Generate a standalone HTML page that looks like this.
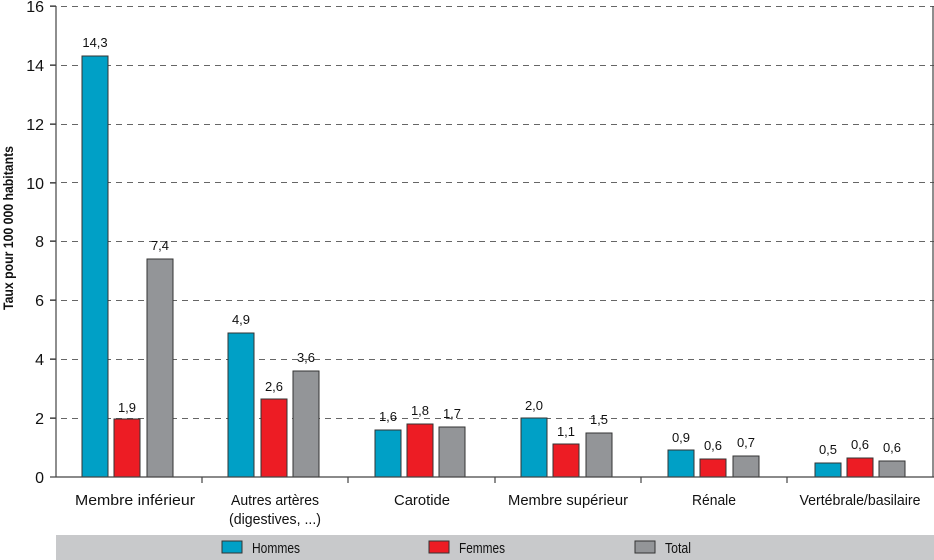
<!DOCTYPE html>
<html><head><meta charset="utf-8"><style>
html,body{margin:0;padding:0;background:#fff;}
svg{display:block;font-family:"Liberation Sans Narrow","Liberation Sans",sans-serif;}
</style></head><body>
<svg width="934" height="560" viewBox="0 0 934 560" xmlns="http://www.w3.org/2000/svg">
<rect width="934" height="560" fill="#fff"/>
<g stroke="#666" stroke-width="1" stroke-dasharray="6,5">
<line x1="50" y1="6.5" x2="934" y2="6.5"/>
<line x1="50" y1="65.5" x2="934" y2="65.5"/>
<line x1="50" y1="124.5" x2="934" y2="124.5"/>
<line x1="50" y1="182.5" x2="934" y2="182.5"/>
<line x1="50" y1="241.5" x2="934" y2="241.5"/>
<line x1="50" y1="300.5" x2="934" y2="300.5"/>
<line x1="50" y1="359.5" x2="934" y2="359.5"/>
<line x1="50" y1="418.5" x2="934" y2="418.5"/>
</g>
<g font-size="16" fill="#111" text-anchor="end">
<text x="44" y="12">16</text><text x="44" y="71">14</text><text x="44" y="130">12</text>
<text x="44" y="189">10</text><text x="44" y="247">8</text><text x="44" y="306">6</text>
<text x="44" y="365">4</text><text x="44" y="424">2</text><text x="44" y="483">0</text>
</g>
<text transform="translate(13,228) rotate(-90)" font-size="14" font-weight="bold" text-anchor="middle" fill="#111" textLength="164" lengthAdjust="spacingAndGlyphs">Taux pour 100 000 habitants</text>
<g stroke="#333" stroke-width="1">
<rect x="82" y="56" width="26" height="421" fill="#00a0c6"/>
<rect x="114" y="419" width="26" height="58" fill="#ed1c24"/>
<rect x="147" y="259" width="26" height="218" fill="#939598"/>
<rect x="228" y="333" width="26" height="144" fill="#00a0c6"/>
<rect x="261" y="399" width="26" height="78" fill="#ed1c24"/>
<rect x="293" y="371" width="26" height="106" fill="#939598"/>
<rect x="375" y="430" width="26" height="47" fill="#00a0c6"/>
<rect x="407" y="424" width="26" height="53" fill="#ed1c24"/>
<rect x="439" y="427" width="26" height="50" fill="#939598"/>
<rect x="521" y="418" width="26" height="59" fill="#00a0c6"/>
<rect x="553" y="444" width="26" height="33" fill="#ed1c24"/>
<rect x="586" y="433" width="26" height="44" fill="#939598"/>
<rect x="668" y="450" width="26" height="27" fill="#00a0c6"/>
<rect x="700" y="459" width="26" height="18" fill="#ed1c24"/>
<rect x="733" y="456" width="26" height="21" fill="#939598"/>
<rect x="815" y="463" width="26" height="14" fill="#00a0c6"/>
<rect x="847" y="458" width="26" height="19" fill="#ed1c24"/>
<rect x="879" y="461" width="26" height="16" fill="#939598"/>
</g>
<g stroke="#444" stroke-width="1.2">
<line x1="56" y1="6" x2="56" y2="477"/>
<line x1="50" y1="477" x2="934" y2="477"/>
<line x1="933" y1="6" x2="933" y2="477"/>
<line x1="202" y1="477" x2="202" y2="483"/><line x1="348" y1="477" x2="348" y2="483"/>
<line x1="495" y1="477" x2="495" y2="483"/><line x1="641" y1="477" x2="641" y2="483"/>
<line x1="787" y1="477" x2="787" y2="483"/>
<line x1="50" y1="6" x2="56" y2="6"/><line x1="50" y1="65" x2="56" y2="65"/><line x1="50" y1="124" x2="56" y2="124"/>
<line x1="50" y1="183" x2="56" y2="183"/><line x1="50" y1="241" x2="56" y2="241"/><line x1="50" y1="300" x2="56" y2="300"/>
<line x1="50" y1="359" x2="56" y2="359"/><line x1="50" y1="418" x2="56" y2="418"/>
</g>
<g font-size="13" fill="#111" text-anchor="middle">
<text x="95" y="47">14,3</text><text x="127" y="412">1,9</text><text x="160" y="250">7,4</text>
<text x="241" y="324">4,9</text><text x="274" y="391">2,6</text><text x="306" y="362">3,6</text>
<text x="388" y="421">1,6</text><text x="420" y="415">1,8</text><text x="452" y="418">1,7</text>
<text x="534" y="410">2,0</text><text x="566" y="436">1,1</text><text x="599" y="424">1,5</text>
<text x="681" y="442">0,9</text><text x="713" y="450">0,6</text><text x="746" y="447">0,7</text>
<text x="828" y="454">0,5</text><text x="860" y="449">0,6</text><text x="892" y="452">0,6</text>
</g>
<g font-size="15" fill="#111" text-anchor="middle">
<text x="135" y="505" textLength="120" lengthAdjust="spacingAndGlyphs">Membre inférieur</text>
<text x="275" y="505" textLength="88" lengthAdjust="spacingAndGlyphs">Autres artères</text>
<text x="275" y="524" textLength="92" lengthAdjust="spacingAndGlyphs">(digestives, ...)</text>
<text x="422" y="505" textLength="56" lengthAdjust="spacingAndGlyphs">Carotide</text>
<text x="568" y="505" textLength="120" lengthAdjust="spacingAndGlyphs">Membre supérieur</text>
<text x="714" y="505" textLength="44" lengthAdjust="spacingAndGlyphs">Rénale</text>
<text x="860" y="505" textLength="121" lengthAdjust="spacingAndGlyphs">Vertébrale/basilaire</text>
</g>
<rect x="56" y="535" width="878" height="25" fill="#c8c9cb"/>
<g stroke="#333" stroke-width="1">
<rect x="222" y="541" width="20" height="12" fill="#00a0c6"/>
<rect x="429" y="541" width="20" height="12" fill="#ed1c24"/>
<rect x="635" y="541" width="20" height="12" fill="#939598"/>
</g>
<g font-size="15" fill="#111">
<text x="252" y="553" textLength="48" lengthAdjust="spacingAndGlyphs">Hommes</text>
<text x="459" y="553" textLength="46" lengthAdjust="spacingAndGlyphs">Femmes</text>
<text x="665" y="553" textLength="26" lengthAdjust="spacingAndGlyphs">Total</text>
</g>
</svg>
</body></html>
